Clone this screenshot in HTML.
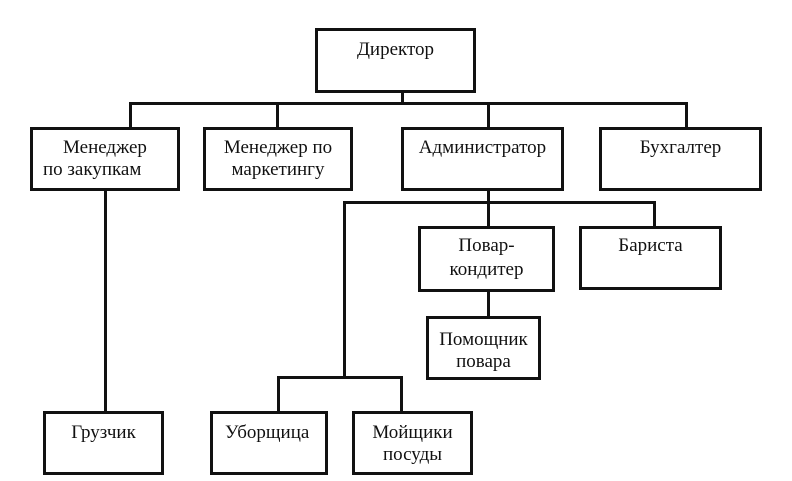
<!DOCTYPE html>
<html><head><meta charset="utf-8"><style>
body{margin:0;width:792px;height:481px;background:#fff;position:relative;overflow:hidden;font-family:"Liberation Serif",serif;font-size:19px;color:#111}
.b{position:absolute;border:3px solid #111;box-sizing:border-box;text-align:center;line-height:22px;padding-top:7px;white-space:nowrap}
.h{position:absolute;background:#111;height:3px}
.v{position:absolute;background:#111;width:3px}
</style></head><body>
<div class="v" style="left:401px;top:90px;height:14px"></div>
<div class="h" style="left:129px;top:102px;width:559px"></div>
<div class="v" style="left:129px;top:102px;height:26px"></div>
<div class="v" style="left:276px;top:102px;height:26px"></div>
<div class="v" style="left:487px;top:102px;height:26px"></div>
<div class="v" style="left:685px;top:102px;height:26px"></div>
<div class="v" style="left:104px;top:188px;height:224px"></div>
<div class="v" style="left:487px;top:188px;height:40px"></div>
<div class="h" style="left:343px;top:201px;width:313px"></div>
<div class="v" style="left:653px;top:201px;height:27px"></div>
<div class="v" style="left:343px;top:201px;height:178px"></div>
<div class="v" style="left:487px;top:290px;height:28px"></div>
<div class="h" style="left:277px;top:376px;width:126px"></div>
<div class="v" style="left:277px;top:376px;height:36px"></div>
<div class="v" style="left:400px;top:376px;height:36px"></div>

<div class="b" style="left:315px;top:28px;width:161px;height:65px;padding-top:8px">Директор</div>
<div class="b" style="left:30px;top:127px;width:150px;height:64px;text-align:left"><span style="padding-left:30px">Менеджер</span><br><span style="padding-left:10px">по закупкам</span></div>
<div class="b" style="left:203px;top:127px;width:150px;height:64px">Менеджер по<br>маркетингу</div>
<div class="b" style="left:401px;top:127px;width:163px;height:64px">Администратор</div>
<div class="b" style="left:599px;top:127px;width:163px;height:64px">Бухгалтер</div>
<div class="b" style="left:418px;top:226px;width:137px;height:66px;padding-top:5px;line-height:24px">Повар-<br>кондитер</div>
<div class="b" style="left:579px;top:226px;width:143px;height:64px;padding-top:6px">Бариста</div>
<div class="b" style="left:426px;top:316px;width:115px;height:64px;padding-top:10px">Помощник<br>повара</div>
<div class="b" style="left:43px;top:411px;width:121px;height:64px;padding-top:8px">Грузчик</div>
<div class="b" style="left:210px;top:411px;width:118px;height:64px;padding-top:8px;text-align:left;padding-left:12px">Уборщица</div>
<div class="b" style="left:352px;top:411px;width:121px;height:64px;padding-top:8px">Мойщики<br>посуды</div>
</body></html>
